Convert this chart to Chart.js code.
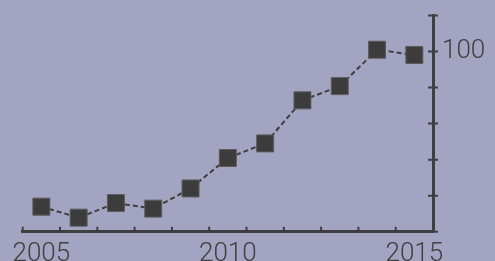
<!DOCTYPE html>
<html>
<head>
<meta charset="utf-8">
<script src="https://cdn.jsdelivr.net/npm/chart.js@4/dist/chart.umd.min.js"></script>
<style>
  html, body { margin: 0; padding: 0; background: #a3a3c2; }
  canvas { display: block; }
</style>
</head>
<body>
<canvas id="myChart" width="495" height="261"></canvas>
<script>
// data
const years = ['2005', '2006', '2007', '2008', '2009', '2010', '2011', '2012', '2013', '2014', '2015'];
const values = [13.9, 7.8, 15.9, 12.8, 24.0, 40.9, 49.0, 72.9, 80.8, 101.0, 98.1];
const xTickLabels = ['2005', '2010', '2015'];
const yTickLabels = [100];

const ink = '#3f3f3f';
const labelFont = { family: 'Roboto', size: 26, weight: '300' };

// little tick marks: x ticks point into the plot, y ticks cross the axis
const tickMarks = {
    id: 'tickMarks',
    afterDraw(chart) {
        const ctx = chart.ctx;
        const x = chart.scales.x;
        const y = chart.scales.y;
        const area = chart.chartArea;
        ctx.save();
        ctx.strokeStyle = ink;
        ctx.lineWidth = 2;
        ctx.beginPath();
        for (let i = 0; i <= years.length; i++) {
            const px = x.getPixelForValue(i - 0.5);
            ctx.moveTo(px, area.bottom);
            ctx.lineTo(px, area.bottom - 5);
        }
        y.ticks.forEach(t => {
            const py = y.getPixelForValue(t.value);
            ctx.moveTo(area.right - 5, py);
            ctx.lineTo(area.right + 5, py);
        });
        ctx.stroke();
        ctx.restore();
    }
};

new Chart(document.getElementById('myChart').getContext('2d'), {
    type: 'line',
    data: {
        labels: years,
        datasets: [{
            data: values,
            borderColor: ink,
            borderWidth: 2,
            borderDash: [5, 3],
            pointStyle: 'rect',
            pointRadius: 12,
            pointHoverRadius: 12,
            pointBackgroundColor: '#3c3c3c',
            pointBorderColor: '#5c5c5c',
            pointBorderWidth: 1,
            tension: 0
        }]
    },
    options: {
        responsive: false,
        animation: false,
        devicePixelRatio: 1,
        layout: { padding: { top: 15.5, left: 22.7, right: 0, bottom: 0 } },
        plugins: {
            legend: { display: false },
            tooltip: { enabled: false }
        },
        scales: {
            x: {
                type: 'category',
                offset: true,
                grid: { display: false, offset: true, drawTicks: false },
                border: { display: true, color: ink, width: 3 },
                ticks: {
                    autoSkip: false,
                    maxRotation: 0,
                    padding: 7,
                    color: '#404040',
                    font: labelFont,
                    callback: function (val) {
                        const lab = this.getLabelForValue(val);
                        return xTickLabels.includes(lab) ? lab : '';
                    }
                },
                afterFit(scale) {
                    scale.height = 29.3;
                    scale.paddingLeft = 0;
                    scale.paddingRight = 0;
                }
            },
            y: {
                position: 'right',
                min: 0,
                max: 120,
                grid: { display: false, drawTicks: false },
                border: { display: true, color: ink, width: 3 },
                ticks: {
                    stepSize: 20,
                    padding: 9,
                    color: '#404040',
                    font: labelFont,
                    callback: v => yTickLabels.includes(v) ? String(v) : ''
                },
                afterFit(scale) {
                    scale.width = 62;
                    scale.paddingTop = 0;
                    scale.paddingBottom = 0;
                }
            }
        }
    },
    plugins: [tickMarks]
});
</script>
</body>
</html>
